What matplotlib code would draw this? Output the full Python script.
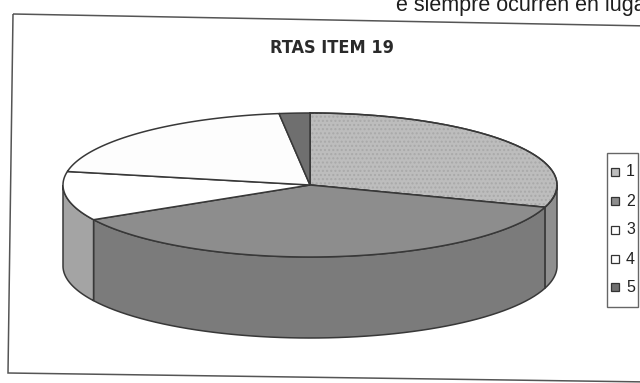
import numpy as np
import matplotlib.pyplot as plt
from matplotlib.patches import Polygon, Rectangle

# respuestas al item 19 (porcentaje por opcion)
labels = ['1', '2', '3', '4', '5']
values = [30, 37, 11, 20, 2]
top_colors = ['#bdbdbd', '#8d8d8d', '#ffffff', '#fdfdfd', '#6f6f6f']
side_colors = ['#8f8f8f', '#7b7b7b', '#a4a4a4', '#d8d8d8', '#5a5a5a']
title = 'RTAS ITEM 19'

W, H = 640, 383
fig = plt.figure(figsize=(W / 100, H / 100), dpi=100)
ax = fig.add_axes([0, 0, 1, 1])
ax.set_xlim(0, W)
ax.set_ylim(H, 0)
ax.axis('off')

# geometria del pastel 3D (en pixeles)
cx, cy, a, b, depth = 310, 185, 247, 72, 81
edge = '#383838'


def ell(t, dy=0.0):
    t = np.radians(t)
    return np.column_stack([cx + a * np.cos(t), cy - b * np.sin(t) + dy])


fr = np.array(values, dtype=float) / sum(values)
ends = 90 - 360 * np.cumsum(fr)
starts = np.concatenate([[90], ends[:-1]])

# caras laterales visibles (mitad delantera)
for i in range(len(values)):
    lo, hi = max(ends[i], -180), min(starts[i], 0)
    if lo >= hi:
        continue
    ts = np.linspace(lo, hi, 60)
    pts = np.vstack([ell(ts), ell(ts[::-1], depth)])
    ax.add_patch(Polygon(pts, closed=True, fc=side_colors[i], ec=edge, lw=1.1))

# caras superiores
for i in range(len(values)):
    ts = np.linspace(starts[i], ends[i], 120)
    pts = np.vstack([[cx, cy], ell(ts)])
    ax.add_patch(Polygon(pts, closed=True, fc=top_colors[i], ec=edge, lw=1.1))
    if i == 0:
        # textura punteada de la opcion 1
        ax.add_patch(Polygon(pts, closed=True, fill=False, hatch='....',
                             ec='#a9a9a9', lw=0))
        ax.add_patch(Polygon(pts, closed=True, fill=False, ec=edge, lw=1.1))

ax.text(332, 48, title, ha='center', va='center', fontsize=13,
        fontweight='bold', fontstretch='condensed',
        family=['Liberation Sans Narrow', 'DejaVu Sans'], color='#2a2a2a')

# leyenda
ax.add_patch(Rectangle((607, 153), 31, 154, fill=False, ec='#666666', lw=1))
ly = [172, 201, 230, 259, 287]
for i, lab in enumerate(labels):
    ax.add_patch(Rectangle((611, ly[i] - 4), 8, 8, fc=top_colors[i],
                           ec='#333333', lw=0.9))
    ax.text(626, ly[i], lab, ha='left', va='center', fontsize=11.5,
            family='Liberation Sans', color='#222222')

# marco del grafico (ligeramente inclinado)
frame = np.array([[13, 14], [650, 26], [650, 382], [8, 373]])
ax.add_patch(Polygon(frame, closed=True, fill=False, ec='#555555', lw=1.1))

# texto del documento cortado arriba
ax.text(396, 11, 'e siempre ocurren en lugares', ha='left', va='baseline',
        fontsize=15.5, family='Liberation Sans', color='#1e1e1e')

fig.savefig('out.png', dpi=100)
